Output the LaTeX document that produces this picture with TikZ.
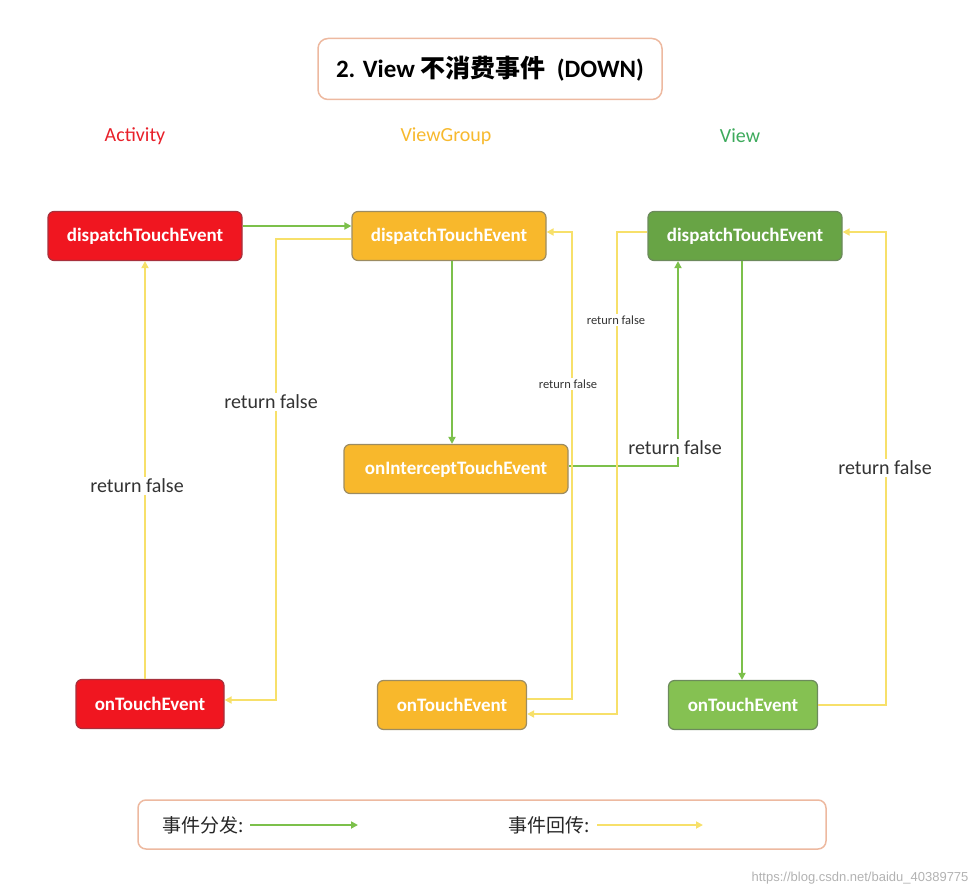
\documentclass[tikz,border=0pt]{standalone}
\usepackage{fontspec}
\setmainfont{Carlito}
\newfontfamily\cjk{Noto Sans CJK SC}
\newfontfamily\wmfont{Liberation Sans}
\usetikzlibrary{arrows.meta}
\definecolor{redfill}{HTML}{F01620}
\definecolor{redline}{HTML}{A8303C}
\definecolor{orfill}{HTML}{F8B82C}
\definecolor{orline}{HTML}{9C8C62}
\definecolor{gdfill}{HTML}{68A445}
\definecolor{gdline}{HTML}{6C8A5C}
\definecolor{glfill}{HTML}{85C152}
\definecolor{arrgreen}{HTML}{7CC04B}
\definecolor{arryel}{HTML}{F7E06A}
\definecolor{peach}{HTML}{EDB9A0}
\definecolor{hdred}{HTML}{E8202A}
\definecolor{hdor}{HTML}{F7B92E}
\definecolor{hdgreen}{HTML}{3DAA5C}
\definecolor{lbl}{HTML}{333333}
\begin{document}
\begin{tikzpicture}[x=1pt,y=-1pt,
  nodebox/.style={rounded corners=6pt, line width=1.2pt, minimum height=49pt, inner sep=0pt,
    text=white, font=\bfseries\fontsize{19}{22}\selectfont},
  rbox/.style={nodebox, draw=redline, fill=redfill},
  obox/.style={nodebox, draw=orline, fill=orfill},
  gbox/.style={nodebox, draw=gdline, fill=gdfill},
  lgbox/.style={nodebox, draw=gdline, fill=glfill},
  grn/.style={draw=arrgreen, line width=1.8pt, -{Triangle[length=7pt,width=7pt]}},
  yel/.style={draw=arryel, line width=1.8pt, -{Triangle[length=7pt,width=7pt]}},
  biglbl/.style={fill=white, text=lbl, inner sep=2pt, font=\fontsize{20}{23}\selectfont},
  smalllbl/.style={fill=white, text=lbl, inner sep=2pt, font=\fontsize{12.5}{14}\selectfont},
  header/.style={font=\fontsize{20}{23}\selectfont},
  legendtxt/.style={font=\cjk\fontsize{19}{22}\selectfont, text=black!85}
]
\useasboundingbox (0,0) rectangle (979,896);

% title
\node[draw=peach, line width=1.5pt, rounded corners=10pt, minimum width=344pt, minimum height=61pt,
  font=\bfseries\fontsize{25}{29}\selectfont] (title) at (490,69) {2. View {\cjk\bfseries 不消费事件}\ \ (DOWN)};

% headers
\node[header, text=hdred] (h1) at (135,136) {Activity};
\node[header, text=hdor] (h2) at (446,136) {ViewGroup};
\node[header, text=hdgreen] (h3) at (740,136) {View};

% nodes
\node[rbox, minimum width=194pt] (ad) at (145,236) {dispatchTouchEvent};
\node[obox, minimum width=194pt] (vd) at (449,236) {dispatchTouchEvent};
\node[gbox, minimum width=194pt] (wd) at (745,236) {dispatchTouchEvent};
\node[obox, minimum width=224pt] (vi) at (456,469) {onInterceptTouchEvent};
\node[rbox, minimum width=148pt] (ao) at (150,704) {onTouchEvent};
\node[obox, minimum width=149pt] (vo) at (452,705) {onTouchEvent};
\node[lgbox, minimum width=149pt] (wo) at (743,705) {onTouchEvent};

% bend coordinates
\coordinate (c1) at (276,239);
\coordinate (c2) at (276,700);
\coordinate (c3) at (678,466);
\coordinate (c4) at (572,699);
\coordinate (c5) at (572,232);
\coordinate (c6) at (617,232);
\coordinate (c7) at (617,714);
\coordinate (c8) at (886,705);
\coordinate (c9) at (886,232);

% connectors
\draw[grn] (ad.east |- 0,226) -- (vd.west |- 0,226);
\draw[yel] (vd.west |- c1) -- (c1) -- (c2) -- (ao.east |- c2);
\draw[yel] (ao.north -| ad.south) -- (ad.south);
\draw[grn] (vd.south -| 452,0) -- (vi.north -| 452,0);
\draw[grn] (vi.east |- c3) -- (c3) -- (wd.south -| c3);
\draw[yel] (vo.east |- c4) -- (c4) -- (c5) -- (vd.east |- c5);
\draw[yel] (wd.west |- c6) -- (c6) -- (c7) -- (vo.east |- c7);
\draw[grn] (wd.south -| 742,0) -- (wo.north -| 742,0);
\draw[yel] (wo.east) -- (c8) -- (c9) -- (wd.east |- c9);

% labels
\node[biglbl] (l1) at (271,402) {return false};
\node[biglbl] (l2) at (137,486) {return false};
\node[biglbl] (l3) at (675,448) {return false};
\node[biglbl] (l4) at (885,468) {return false};
\node[smalllbl] (l5) at (568,384) {return false};
\node[smalllbl] (l6) at (616,320) {return false};

% legend
\node[draw=peach, line width=1.5pt, rounded corners=8pt, minimum width=688pt, minimum height=49pt] (legend) at (482,824.5) {};
\node[legendtxt] (t1) at (203,825) {事件分发:};
\coordinate (g1) at (250,825);
\coordinate (g2) at (358,825);
\draw[grn] (g1) -- (g2);
\node[legendtxt] (t2) at (549,825) {事件回传:};
\coordinate (y1) at (597,825);
\coordinate (y2) at (703,825);
\draw[yel] (y1) -- (y2);

% watermark
\node[anchor=east, text=black!30, font=\wmfont\fontsize{13}{15}\selectfont] (wm) at (972,878) {https://blog.csdn.net/baidu\_40389775};
\end{tikzpicture}
\end{document}
